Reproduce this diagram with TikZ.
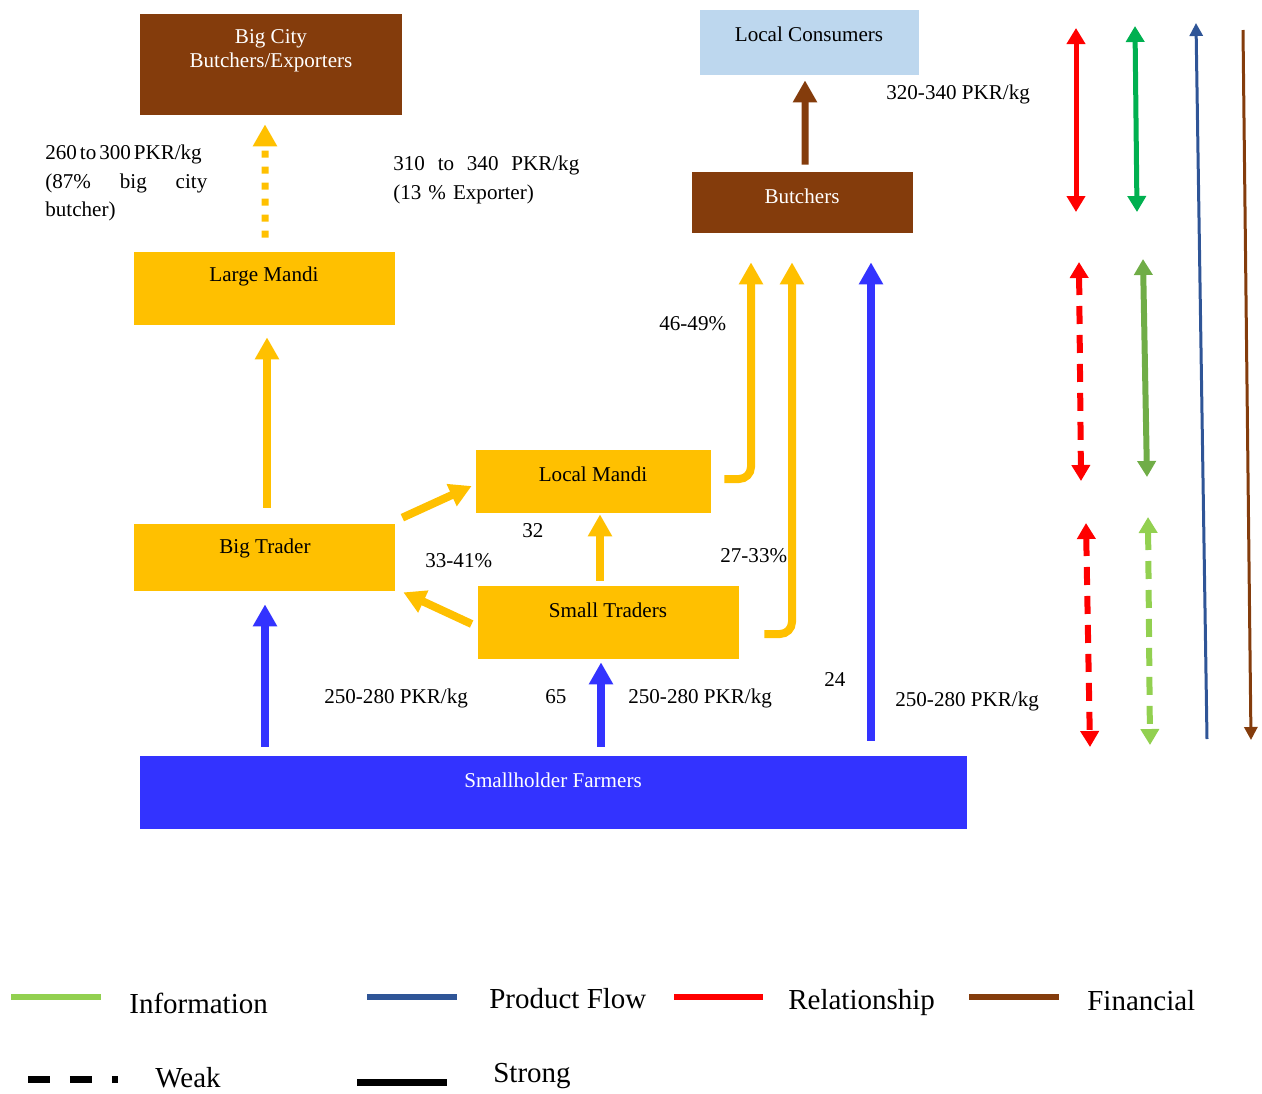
\documentclass[tikz,border=0pt]{standalone}
\usepackage{fontspec}
\setmainfont{Liberation Serif}
\usetikzlibrary{arrows.meta, fit, calc}

\definecolor{mandi}{HTML}{FFC000}
\definecolor{meat}{HTML}{843C0C}
\definecolor{sky}{HTML}{BDD7EE}
\definecolor{farm}{HTML}{3333FF}
\definecolor{relred}{HTML}{FF0000}
\definecolor{infogreen}{HTML}{00B050}
\definecolor{midgreen}{HTML}{70AD47}
\definecolor{lightgreen}{HTML}{92D050}
\definecolor{prodblue}{HTML}{2F5597}

\begin{document}
\begin{tikzpicture}[x=0.02cm, y=-0.02cm,
        every node/.style={font=\fontsize{12}{16}\selectfont},
        box/.style={rectangle, inner sep=0pt, draw=none},
        lbl/.style={inner sep=0pt, anchor=west},
        flow/.style={line width=0.16cm, -{Triangle[width=0.46cm, length=0.44cm]}},
        key/.style={line width=0.1cm, {Triangle[width=0.36cm, length=0.32cm]}-{Triangle[width=0.36cm, length=0.32cm]}},
        weak/.style={dash pattern=on 0.36cm off 0.22cm},
        keyline/.style={line width=0.12cm},
        legtext/.style={inner sep=0pt, anchor=west, font=\fontsize{16.5}{18}\selectfont}
    ]

    \useasboundingbox (0,0) rectangle (1262,1093);

    % boxes
    \node[box, fill=meat, fit={(140,14) (402,115)}] (bigcity) {};
    \node[box, fill=sky, fit={(700,10) (919,75)}] (consumers) {};
    \node[box, fill=meat, fit={(692,172) (913,233)}] (butchers) {};
    \node[box, fill=mandi, fit={(134,252) (395,325)}] (largemandi) {};
    \node[box, fill=mandi, fit={(476,450) (711,513)}] (localmandi) {};
    \node[box, fill=mandi, fit={(134,524) (395,591)}] (bigtrader) {};
    \node[box, fill=mandi, fit={(478,586) (739,659)}] (smalltraders) {};
    \node[box, fill=farm, fit={(140,756) (967,829)}] (farmers) {};

    \node[white, align=center, font=\fontsize{12}{13.7}\selectfont] (bigcitytext) at (271,51) {Big City\\Butchers/Exporters};
    \node (consumerstext) at (809,34) {Local Consumers};
    \node[white] (butcherstext) at (802,196) {Butchers};
    \node (largemanditext) at (264,276) {Large Mandi};
    \node (localmanditext) at (593,474) {Local Mandi};
    \node (bigtradertext) at (265,548) {Big Trader};
    \node (smalltraderstext) at (608,610) {Small Traders};
    \node[white] (farmerstext) at (553,780) {Smallholder Farmers};

    % product flows
    \draw[flow, farm] ($(bigtrader.south |- farmers.north)+(0.5,-9)$) -- ($(bigtrader.south)+(0.5,13)$);
    \draw[flow, farm] ($(smalltraders.south |- farmers.north)+(-7.5,-9)$) -- ($(smalltraders.south)+(-7.5,3)$);
    \draw[flow, farm] ($(butchers.south |- farmers.north)+(68.5,-15)$) -- ($(butchers.south)+(68.5,29)$);

    \draw[flow, mandi] ($(bigtrader.north)+(2.5,-16)$) -- ($(largemandi.south)+(2.5,12)$);
    \draw[flow, mandi, line width=0.14cm, dash pattern=on 0.14cm off 0.18cm] ($(largemandi.north)+(0.5,-14)$) -- ($(bigcity.south)+(-6,9)$);
    \draw[flow, mandi] ($(bigtrader.north east)+(7,-6)$) -- ($(localmandi.west)+(-4,4.5)$);
    \draw[flow, mandi] ($(smalltraders.west)+(-6,1.5)$) -- ($(bigtrader.south east)+(8,1)$);
    \draw[flow, mandi] ($(localmandi.south |- smalltraders.north)+(6.5,-5)$) -- ($(localmandi.south)+(6.5,1)$);
    \draw[flow, mandi, rounded corners=0.24cm] ($(localmandi.east)+(13,-2.5)$) -| ($(butchers.south)+(-51.5,29)$);
    \draw[flow, mandi, rounded corners=0.24cm] ($(smalltraders.east)+(25,11.5)$) -| ($(butchers.south)+(-10.5,29)$);

    \draw[flow, meat, line width=0.14cm] ($(butchers.north)+(2.5,-7)$) -- ($(consumers.south)+(-4.5,5)$);

    % labels
    \node[inner sep=0pt, anchor=north west, text width=3.24cm, align=left] (citylabel) at (45,145)
        {{\spaceskip=0.14em 260 to 300 PKR/kg}\\(87\%\hfill big\hfill city\\butcher)};
    \node[inner sep=0pt, anchor=north west, text width=3.72cm, align=left] (exportlabel) at (393,156)
        {310\hfill to\hfill 340\hfill PKR/kg\\(13 \% Exporter)};
    \node[lbl] (consumerprice) at (886,94) {320-340 PKR/kg};
    \node[lbl] (sharelocal) at (659,324) {46-49\%};
    \node[lbl] (sharethirtytwo) at (522,531) {32};
    \node[lbl] (sharebig) at (425,561) {33-41\%};
    \node[lbl] (sharesmall) at (720,556) {27-33\%};
    \node[lbl] (pricebig) at (324,698) {250-280 PKR/kg};
    \node[lbl] (sharesixtyfive) at (545,697) {65};
    \node[lbl] (pricesmall) at (628,698) {250-280 PKR/kg};
    \node[lbl] (sharetwentyfour) at (824,680) {24};
    \node[lbl] (pricebutcher) at (895,701) {250-280 PKR/kg};

    % strength key arrows
    \draw[key, relred] (1076,28) -- (1076,212);
    \draw[key, infogreen] (1135,26) -- (1137,212);
    \draw[key, relred, weak, line width=0.12cm] (1079,262) -- (1081,481);
    \draw[key, midgreen, line width=0.12cm] (1143,259) -- (1147,477);
    \draw[key, relred, weak, line width=0.12cm] (1086,523) -- (1090,747);
    \draw[key, lightgreen, weak, line width=0.12cm] (1148,517) -- (1150,745);
    \draw[prodblue, line width=0.06cm, -{Triangle[width=0.26cm, length=0.26cm]}] (1207,739) -- (1196,23);
    \draw[meat, line width=0.06cm, -{Triangle[width=0.26cm, length=0.26cm]}] (1243,30) -- (1251,740);

    % legend
    \draw[keyline, lightgreen] (11,997) -- (101,997);
    \node[legtext] (leginfo) at (129,1003) {Information};
    \draw[keyline, prodblue] (367,997) -- (457,997);
    \node[legtext] (legproduct) at (489,999) {Product Flow};
    \draw[keyline, relred] (674,997) -- (763,997);
    \node[legtext] (legrelation) at (788,1003) {Relationship};
    \draw[keyline, meat] (969,997) -- (1059,997);
    \node[legtext] (legfinance) at (1087,1001) {Financial};
    \draw[keyline, black, line width=0.14cm, dash pattern=on 0.44cm off 0.4cm] (28,1079) -- (118,1079);
    \node[legtext] (legweak) at (155,1078) {Weak};
    \draw[keyline, black, line width=0.14cm] (357,1082) -- (447,1082);
    \node[legtext] (legstrong) at (493,1076) {Strong};

\end{tikzpicture}
\end{document}
